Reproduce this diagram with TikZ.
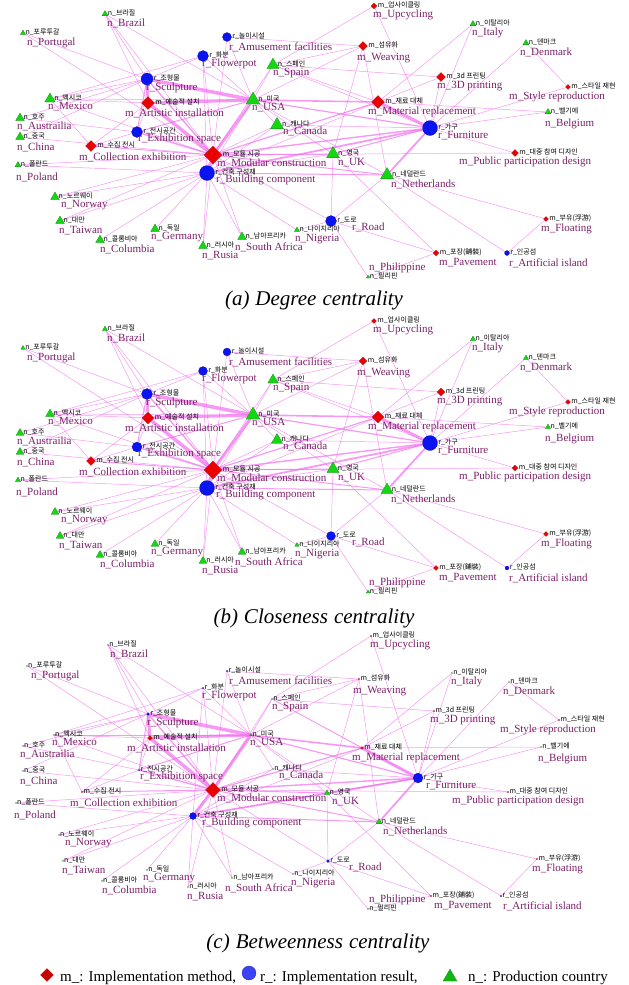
\documentclass[tikz,border=0pt]{standalone}
\usepackage{fontspec}
\setmainfont{Liberation Serif}
\newfontfamily\krfont{Noto Sans CJK KR}
\usetikzlibrary{shapes.geometric,backgrounds}

\definecolor{linkpink}{RGB}{242,110,238}
\definecolor{labpurple}{RGB}{122,32,104}
\definecolor{mred}{RGB}{235,0,0}
\definecolor{rblue}{RGB}{10,20,240}
\definecolor{ngreen}{RGB}{20,215,20}

\tikzset{
  mshape/.style={diamond,fill=mred,draw=mred!70!black,line width=.2pt,inner sep=0pt},
  rshape/.style={circle,fill=rblue,draw=rblue!70!black,line width=.2pt,inner sep=0pt},
  nshape/.style={regular polygon,regular polygon sides=3,fill=ngreen,draw=ngreen!60!black,line width=.2pt,inner sep=0pt},
  krlabel/.style={font=\krfont\fontsize{7}{8}\selectfont,inner sep=.5pt,anchor=west},
  enlabel/.style={font=\fontsize{11}{12}\selectfont,text=labpurple,inner sep=0pt,anchor=west},
  link/.style={draw=linkpink,opacity=.7},
  caption/.style={font=\fontsize{21}{24}\selectfont\itshape},
  legend/.style={font=\fontsize{15}{17}\selectfont,anchor=west,inner sep=0pt}
}

% name/kind/x/y/x(c)/y(c)/size a/size b/size c/label dx/label dy/korean/english
\def\nodelist{%
mod/m/213/155/213/154/18/18/15/4/8/모듈 시공/Modular construction,%
art/m/148/103/150/102/13/12/5/-23/10/예술적 설치/Artistic installation,%
mat/m/378/102/362/112/13/12/3/-10/10/재료 대체/Material replacement,%
col/m/91/146/82/156/11/9/1.5/-12/11/수집 전시/Collection exhibition,%
tdp/m/441/77/434/75/9/8/1.5/-4/9/3d 프린팅/3D printing,%
wea/m/363/46/359/43/9/8/1.5/-6/12/섬유화/Weaving,%
upc/m/374/6/371/0/6/5/1.5/-1/9/업사이클링/Upcycling,%
pub/m/515/153/508/156/7/6/1.5/-56/9/대중 참여 디자인/Public participation design,%
sty/m/568/87/559/84/5/5/1.5/-59/10/스타일 재현/Style reproduction,%
pav/m/436/253/431/260/6/5/1.5/3/10/포장(鋪裝)/Pavement,%
flt/m/546/219/537/223/5/5/1.5/-5/10/부유(浮游)/Floating,%
bld/r/207/173/193/180/15/15/7/9/7/건축 구성재/Building component,%
fur/r/430/128/418/142/15/15/10/8/8/가구/Furniture,%
scu/r/147/79/148/78/12/11/3/-1/9/조형물/Sculpture,%
exh/r/137/132/139/134/11/10/1.5/1/7/전시공간/Exhibition space,%
pot/r/203/56/203/52/11/9/1.5/-1/8/화분/Flowerpot,%
amu/r/227/37/227/35/9/8/1.5/2/10/놀이시설/Amusement facilities,%
road/r/331/221/328/225/11/9/3/21/6/도로/Road,%
isl/r/507/253/501/260/5/4/1.5/2/10/인공섬/Artificial island,%
usa/n/253/100/251/99/16/16/3/-1/8/미국/USA,%
uk/n/333/154/327/157/15/14/6/5/9/영국/UK,%
ned/n/387/175/379/186/15/14/7/4/9/네덜란드/Netherlands,%
can/n/277/125/273/133/15/13/1.5/6/6/캐나다/Canada,%
spa/n/273/65/272/63/14/12/1.5/0/8/스페인/Spain,%
mex/n/50/99/54/99/12/10/1.5/-2/8/멕시코/Mexico,%
aus/n/20/118/23/110/10/9/1.5/-3/8/호주/Austrailia,%
chn/n/20/137/23/135/10/9/1.5/-3/10/중국/China,%
nor/n/55/197/59/199/10/9/1.5/6/8/노르웨이/Norway,%
twn/n/60/221/63/225/10/9/1.5/-1/10/대만/Taiwan,%
clb/n/100/240/102/245/10/9/1.5/0/9/콜롬비아/Columbia,%
ger/n/155/229/147/234/10/9/1.5/-4/8/독일/Germany,%
rus/n/203/246/188/251/10/9/1.5/-1/10/러시아/Rusia,%
saf/n/242/237/232/242/10/9/1.5/-7/10/남아프리카/South Africa,%
nig/n/297/230/293/238/6/5/1.5/-2/9/나이지리아/Nigeria,%
bra/n/105/14/108/9/7/6/1.5/2/9/브라질/Brazil,%
por/n/23/33/27/30/6/5/1.5/4/10/포루투갈/Portugal,%
pol/n/18/165/16/167/7/6/1.5/-2/12/폴란드/Poland,%
ita/n/473/24/452/37/7/6/1.5/-1/9/이탈리아/Italy,%
den/n/526/43/509/46/7/6/1.5/-6/9/덴마크/Denmark,%
bel/n/548/112/541/111/7/6/1.5/-3/12/벨기에/Belgium,%
phi/n/368/277/368/273/4/4/1.5/1/-9/필리핀/Philippine}

% from/to/width
\def\linklist{%
scu/usa/3.5,art/usa/3,scu/art/3,art/mod/3.5,usa/mod/3,mod/bld/3,mat/fur/3,%
usa/mat/1.6,bld/fur/1.8,mod/fur/1.4,usa/fur/1.2,mod/mat/1.2,exh/mod/1.4,%
scu/mod/1.4,ned/fur/1.8,col/mod/1,mod/uk/1,mod/ned/1,bld/ned/1,uk/fur/1,%
exh/usa/1,scu/exh/1,%
bra/scu/.5,bra/art/.5,bra/mod/.5,bra/usa/.5,por/scu/.5,por/mod/.5,mex/scu/.5,%
mex/art/.5,mex/mod/.5,mex/usa/.5,mex/pot/.5,aus/exh/.5,aus/scu/.5,chn/scu/.5,%
chn/mod/.5,pol/mod/.5,pol/bld/.5,nor/mod/.5,nor/bld/.5,twn/bld/.5,twn/mod/.5,%
clb/bld/.5,ger/bld/.5,rus/bld/.5,rus/mod/.5,saf/bld/.5,saf/mod/.5,nig/bld/.5,%
nig/road/.5,road/pav/.5,road/ned/.5,road/phi/.5,road/uk/.5,road/mod/.5,%
pav/phi/.5,pav/uk/.5,isl/ned/.5,isl/flt/.5,flt/ned/.5,uk/bld/.5,pub/fur/.5,%
pub/mod/.5,bel/fur/.5,bel/mat/.5,sty/fur/.5,sty/den/.5,den/fur/.5,ita/fur/.5,%
ita/mat/.5,tdp/fur/.5,tdp/spa/.5,tdp/mat/.5,upc/spa/.5,upc/fur/.5,wea/amu/.5,%
wea/usa/.5,wea/uk/.5,wea/ned/.5,wea/spa/.5,amu/usa/.5,amu/mod/.5,pot/usa/.5,%
pot/scu/.5,pot/mod/.5,pot/bld/.5,spa/usa/.5,spa/mat/.5,spa/fur/.5,spa/mod/.5,%
can/usa/.5,can/mod/.5,can/fur/.5,can/bld/.5,exh/col/.5,exh/art/.5,col/mex/.5,%
col/art/.5,usa/bld/.5,usa/ned/.5,usa/uk/.5,mat/bld/.5}

\begin{document}
\begin{tikzpicture}[x=1pt,y=-1pt]
\useasboundingbox (0,0) rectangle (629,985);

% three panels, same network
\foreach \pan/\yo/\pk in {a/0/1,b/315/2,c/636/3}{
  \foreach \nm/\kind/\xa/\ya/\xc/\yc/\sa/\sb/\sc/\dx/\dy/\kr/\en in \nodelist{
    \ifcase\pk\or\let\sz\sa\or\let\sz\sb\or\let\sz\sc\fi
    \ifnum\pk=3 \let\px\xc\let\py\yc\else\let\px\xa\let\py\ya\fi
    \if m\kind\tikzset{curshape/.style={mshape}}\fi
    \if r\kind\tikzset{curshape/.style={rshape}}\fi
    \if n\kind\tikzset{curshape/.style={nshape}}\fi
    \node[curshape,minimum size=\sz pt] (\pan-\nm) at (\px,\py+\yo) {};
    \node[krlabel] (\pan-\nm-kr) at ([yshift=1pt]\pan-\nm.east) {\kind\_\kr};
    \node[enlabel] (\pan-\nm-en) at (\px+\dx,\py+\dy+\yo) {\kind\_\en};
  }
  \begin{pgfonlayer}{background}
    \foreach \u/\v/\w in \linklist
      \draw[link,line width=\w pt] (\pan-\u) -- (\pan-\v);
  \end{pgfonlayer}
}

% captions
\node[caption] (capa) at (314,300) {(a)\hspace{6pt}Degree\hspace{6pt}centrality};
\node[caption] (capb) at (314,618) {(b)\hspace{6pt}Closeness\hspace{6pt}centrality};
\node[caption] (capc) at (318,943) {(c)\hspace{6pt}Betweenness\hspace{6pt}centrality};

% legend
\node[mshape,fill=mred!85!black,minimum size=13pt] (legm) at (47,975) {};
\node[legend] (legmt) at (60,978) {m\_: Implementation method,};
\node[rshape,fill=rblue!80!white,minimum size=14pt] (legr) at (249,973) {};
\node[legend] (legrt) at (260,978) {r\_: Implementation result,};
\node[nshape,fill=ngreen!85!black,minimum size=16pt] (legn) at (450,977) {};
\node[legend] (legnt) at (468,978) {n\_: Production country};

\end{tikzpicture}
\end{document}
